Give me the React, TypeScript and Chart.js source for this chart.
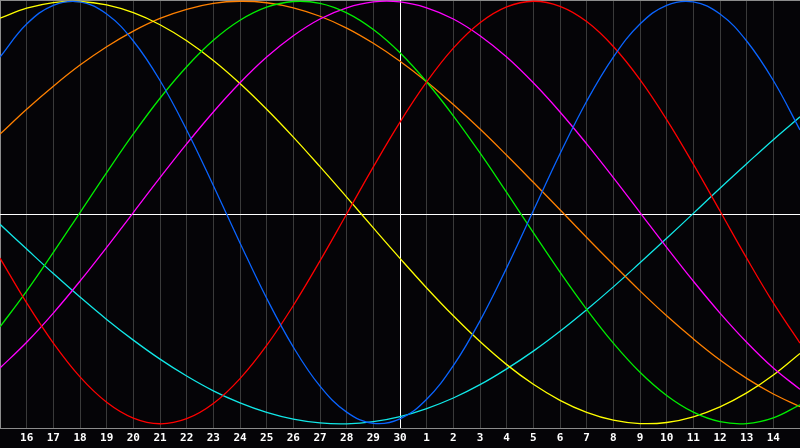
import React, { useEffect, useRef } from 'react';
import { Chart, registerables } from 'chart.js';

Chart.register(...registerables);

// Day labels (left edge = 15th of previous month, right edge = 15th)
const dayLabels = [
  '15', '16', '17', '18', '19', '20', '21', '22', '23', '24', '25', '26', '27', '28', '29', '30',
  '1', '2', '3', '4', '5', '6', '7', '8', '9', '10', '11', '12', '13', '14', '15',
];
const todayLabelIndex = 15; // "30"

// Cycle values (one per day)
const physical = [
  0.736, 0.892, 0.981, 0.997, 0.94, 0.812, 0.625, 0.391, 0.128, -0.144, -0.406, -0.637, -0.822, -0.945, -0.998, -0.977,
  -0.884, -0.725, -0.513, -0.262, 0.008, 0.278, 0.527, 0.736, 0.892, 0.981, 0.997, 0.94, 0.812, 0.625, 0.391,
];
const emotional = [
  -0.216, -0.428, -0.618, -0.778, -0.898, -0.973, -1.0, -0.976, -0.904, -0.786, -0.629, -0.44, -0.229, -0.007, 0.216, 0.428,
  0.618, 0.778, 0.898, 0.973, 1.0, 0.976, 0.904, 0.786, 0.629, 0.44, 0.229, 0.007, -0.216, -0.428, -0.618,
];
const intellectual = [
  -0.541, -0.372, -0.189, 0.0, 0.189, 0.372, 0.541, 0.69, 0.815, 0.91, 0.972, 0.999, 0.99, 0.945, 0.866, 0.756,
  0.618, 0.458, 0.282, 0.095, -0.095, -0.282, -0.458, -0.618, -0.756, -0.866, -0.945, -0.99, -0.999, -0.972, -0.91,
];
const intuitive = [
  -0.736, -0.614, -0.476, -0.325, -0.165, 0.0, 0.165, 0.325, 0.476, 0.614, 0.736, 0.837, 0.916, 0.969, 0.997, 0.997,
  0.969, 0.916, 0.837, 0.736, 0.614, 0.476, 0.325, 0.165, 0.0, -0.165, -0.325, -0.476, -0.614, -0.736, -0.837,
];
const aesthetic = [
  0.92, 0.967, 0.994, 0.999, 0.983, 0.946, 0.889, 0.813, 0.72, 0.611, 0.489, 0.357, 0.217, 0.073, -0.073, -0.217,
  -0.357, -0.489, -0.611, -0.72, -0.813, -0.889, -0.946, -0.983, -0.999, -0.994, -0.967, -0.92, -0.854, -0.769, -0.667,
];
const awareness = [
  0.371, 0.489, 0.598, 0.698, 0.785, 0.859, 0.919, 0.962, 0.99, 1.0, 0.993, 0.969, 0.929, 0.873, 0.801, 0.716,
  0.619, 0.511, 0.395, 0.271, 0.143, 0.013, -0.118, -0.246, -0.371, -0.489, -0.598, -0.698, -0.785, -0.859, -0.919,
];
const spiritual = [
  -0.056, -0.173, -0.289, -0.4, -0.506, -0.604, -0.694, -0.774, -0.844, -0.901, -0.946, -0.978, -0.996, -1.0, -0.99, -0.966,
  -0.928, -0.878, -0.815, -0.74, -0.656, -0.562, -0.46, -0.352, -0.238, -0.122, -0.004, 0.115, 0.231, 0.345, 0.453,
];

const seriesNames = ['Physical', 'Emotional', 'Intellectual', 'Intuitive', 'Aesthetic', 'Awareness', 'Spiritual'];
const seriesValues = [physical, emotional, intellectual, intuitive, aesthetic, awareness, spiritual];
const seriesColors = ['#0a64ff', '#ff0000', '#00ee00', '#ff00ff', '#ffff00', '#ff8000', '#11e8e8'];

const framePlugin = {
  id: 'frame',
  beforeDatasetsDraw(chart: any) {
    const { ctx, chartArea: a, scales } = chart;
    const x = scales.x;
    const y = scales.y;
    ctx.save();
    ctx.lineWidth = 1;
    ctx.strokeStyle = '#8c8c8c';
    ctx.beginPath();
    ctx.moveTo(a.left, a.top + 0.5);
    ctx.lineTo(a.right, a.top + 0.5);
    ctx.moveTo(a.left + 0.5, a.top);
    ctx.lineTo(a.left + 0.5, a.bottom);
    ctx.moveTo(a.left, Math.round(a.bottom) + 0.5);
    ctx.lineTo(a.right, Math.round(a.bottom) + 0.5);
    ctx.stroke();
    ctx.strokeStyle = '#ffffff';
    ctx.beginPath();
    const zy = Math.round(y.getPixelForValue(0) + 1.5) + 0.5;
    ctx.moveTo(a.left, zy);
    ctx.lineTo(a.right, zy);
    const tx = Math.round(x.getPixelForValue(todayLabelIndex)) + 0.5;
    ctx.moveTo(tx, a.top);
    ctx.lineTo(tx, a.bottom);
    ctx.stroke();
    ctx.restore();
  },
};

export default function App() {
  const canvasRef = useRef<HTMLCanvasElement | null>(null);

  useEffect(() => {
    document.body.style.margin = '0';
    document.body.style.background = '#050407';
    const canvas = canvasRef.current;
    if (!canvas) return;
    const last = dayLabels.length - 1;
    const chart = new Chart(canvas, {
      type: 'line',
      data: {
        labels: dayLabels,
        datasets: seriesValues.map((vals, i) => ({
          label: seriesNames[i],
          data: vals,
          borderColor: seriesColors[i],
          backgroundColor: seriesColors[i],
          borderWidth: 1.3,
          pointRadius: 0,
          pointBorderWidth: 0,
          pointHoverRadius: 0,
          tension: 0.4,
          fill: false,
        })),
      },
      options: {
        animation: false,
        responsive: false,
        maintainAspectRatio: false,
        events: [],
        layout: { padding: 0 },
        plugins: {
          legend: { display: false },
          tooltip: { enabled: false },
          title: { display: false },
        },
        scales: {
          x: {
            type: 'category',
            offset: false,
            border: { display: false },
            grid: {
              drawTicks: false,
              lineWidth: 1,
              color: (c: any) => (c.index === last ? 'rgba(0,0,0,0)' : '#3a3a3a'),
            },
            ticks: {
              autoSkip: false,
              maxRotation: 0,
              minRotation: 0,
              padding: 0,
              color: '#ffffff',
              font: { family: '"DejaVu Sans Mono", monospace', size: 11, weight: 'bold', lineHeight: '20px' },
              callback: (_v: any, idx: number) => (idx === 0 || idx === last ? '' : dayLabels[idx]),
            },
          },
          y: {
            display: false,
            min: -1.02,
            max: 1.006,
          },
        },
      },
      plugins: [framePlugin],
    } as any);
    return () => chart.destroy();
  }, []);

  return (
    <div style={{ position: 'absolute', left: 0, top: 0, width: 800, height: 448, background: '#050407' }}>
      <canvas ref={canvasRef} width={800} height={448} style={{ display: 'block', width: 800, height: 448 }} />
    </div>
  );
}
